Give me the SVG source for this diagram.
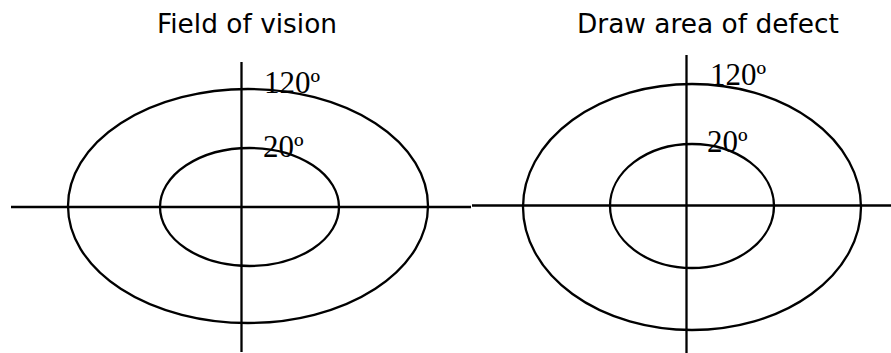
<svg xmlns="http://www.w3.org/2000/svg" width="891" height="353" viewBox="0 0 891 353">
<style>
.ln{stroke:#000;stroke-width:2.3;fill:none}
.t{font-family:"DejaVu Sans",Verdana,sans-serif;font-size:26.4px;fill:#000}
.d{font-family:"Liberation Serif","Times New Roman",serif;font-size:31px;fill:#000}
</style>
<rect width="891" height="353" fill="#fff"/>
<g id="connectors">
<line class="ln" x1="11" y1="207" x2="471" y2="207"/>
<line class="ln" x1="472" y1="205.5" x2="891" y2="205.5"/>
<line class="ln" x1="241.5" y1="62" x2="241.5" y2="352"/>
<line class="ln" x1="686.5" y1="55" x2="686.5" y2="353"/>
</g>
<g id="left-outer"><ellipse class="ln" cx="248" cy="206" rx="180" ry="117"/></g>
<g id="left-inner"><ellipse class="ln" cx="249.5" cy="207" rx="89.5" ry="59"/></g>
<g id="right-outer"><ellipse class="ln" cx="692" cy="207" rx="169" ry="123"/></g>
<g id="right-inner"><ellipse class="ln" cx="692" cy="206" rx="82" ry="62"/></g>
<g id="labels">
<text class="t" x="157" y="33">Field of vision</text>
<text class="t" x="577" y="33">Draw area of defect</text>
<text class="d" x="264" y="93">120º</text>
<text class="d" x="263" y="157">20º</text>
<text class="d" x="710" y="85">120º</text>
<text class="d" x="707" y="152">20º</text>
</g>
</svg>
